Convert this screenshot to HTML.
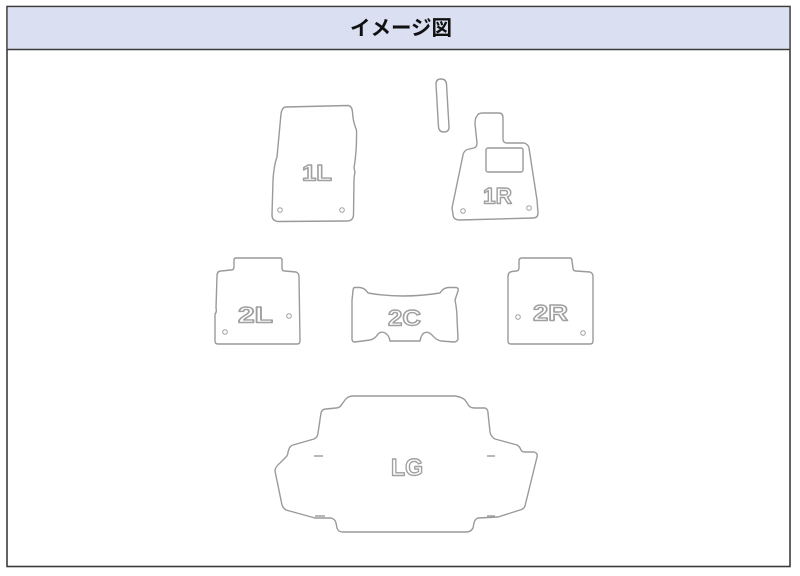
<!DOCTYPE html>
<html>
<head>
<meta charset="utf-8">
<style>
  html, body { margin:0; padding:0; background:#fff; }
  body { width:800px; height:576px; overflow:hidden; }
  svg { display:block; }
  .s { fill:#fff; stroke:#9a9a9a; stroke-width:1.4; stroke-linejoin:round; }
  .h { fill:#fff; stroke:#a0a0a0; stroke-width:1; }
  .t { font-family:"Liberation Sans", Arial, sans-serif; font-weight:bold; fill:#fff; stroke:#a0a0a0; stroke-width:1.4; stroke-linejoin:round; }
  .d { stroke:#a0a0a0; stroke-width:1.5; fill:none; }
</style>
</head>
<body>
<svg width="800" height="576" viewBox="0 0 800 576" xmlns="http://www.w3.org/2000/svg">
  <!-- frame -->
  <rect x="7" y="6.5" width="783" height="560" fill="#fff" stroke="#3c3c3c" stroke-width="1.6"/>
  <rect x="7.8" y="7.3" width="781.4" height="42" fill="#dae0f1"/>
  <line x1="7" y1="49.5" x2="790" y2="49.5" stroke="#3c3c3c" stroke-width="1.6"/>
  <text x="401" y="35" text-anchor="middle" font-family="'Liberation Sans','Noto Sans CJK JP',sans-serif" font-weight="bold" font-size="20.5" fill="#111">イメージ図</text>

  <!-- 1L -->
  <path class="s" d="M286,107 L348,105.5 Q352,106 352.5,112 Q353,122 356.5,130 Q357,150 354,168 L355,172 Q354,176 354,180 L353.5,215 Q353,221 347,221 L278,221.5 Q272,221 272,215 L273,180 Q274,165 277,157 L281,114 Q282,107 286,107 Z"/>
  <circle class="h" cx="280" cy="210" r="2.3"/>
  <circle class="h" cx="342" cy="210" r="2.3"/>
  <text class="t" x="302" y="180.5" font-size="22" textLength="30" lengthAdjust="spacingAndGlyphs">1L</text>

  <!-- small piece -->
  <path class="s" d="M436,84 Q436,79 441,79 Q446,79 446.5,84 L449,127 Q449,132 444,132 Q439,132 438.5,127 Z"/>

  <!-- 1R -->
  <path class="s" d="M477,116 Q478,113 483,113 L499,113 Q503,113 503,118 L503,139 Q503,143 507,143 L524,143 Q528,144 529,148 L537,200 L538,213 Q538,218 533,218 L460,220 Q453,220 453,214 L452,208 L463,155 Q464,150 469,149 L474,148 Q477,147 477,143 L475,124 Q475,118 477,116 Z"/>
  <rect class="s" x="486" y="148" width="37" height="24" rx="2"/>
  <circle class="h" cx="463" cy="211" r="2.3"/>
  <circle class="h" cx="529" cy="208" r="2.3"/>
  <text class="t" x="483" y="203.5" font-size="22" textLength="29" lengthAdjust="spacingAndGlyphs">1R</text>

  <!-- 2L -->
  <path class="s" d="M236,258 L280,258 Q282,258 282,260 L282,268 Q282,271 285,271 L296,272 Q299,273 299,277 L300,341 Q300,344 297,344 L218,344 Q215,344 215,341 L215,314 Q217,312 216,308 L217,276 Q217,271 221,271 L231,270 Q234,270 234,267 L234,260 Q234,258 236,258 Z"/>
  <circle class="h" cx="225" cy="332" r="2.3"/>
  <circle class="h" cx="289" cy="316" r="2.3"/>
  <text class="t" x="238" y="322.5" font-size="22" textLength="35" lengthAdjust="spacingAndGlyphs">2L</text>

  <!-- 2C -->
  <path class="s" d="M355,287.5 L360,287.5 Q365,288 368,293 Q402,299 440,293 Q443,288 448,287.5 L456,287.5 Q459,288 458,291 L455,300 Q457,310 457,318 L458,339 Q457,342 454,342 L441,341 Q436,340 432,335 Q428,331 424,333 Q421,335 420,341 L390,341 Q389,335 385,333 Q381,331 378,334 Q375,339 370,340 L355,342 Q352,342 352,339 L352,300 L353,291 Q353,287.5 355,287.5 Z"/>
  <text class="t" x="388" y="325.5" font-size="22" textLength="33" lengthAdjust="spacingAndGlyphs">2C</text>

  <!-- 2R -->
  <path class="s" d="M522,258 L570,258 Q572,258 572,261 L573,268 Q573,271 576,271 L590,272 Q593,273 593,277 L593,341 Q593,344 590,344 L511,344 Q508,344 508,341 L508,277 Q508,272 512,271.5 L516,271 Q519,271 519,268 L519,261 Q519,258 522,258 Z"/>
  <circle class="h" cx="518" cy="317" r="2.3"/>
  <circle class="h" cx="583" cy="333" r="2.3"/>
  <text class="t" x="533" y="320.5" font-size="22" textLength="35" lengthAdjust="spacingAndGlyphs">2R</text>

  <!-- LG -->
  <path class="s" d="M353,396 L455,396 Q462,397 465,400 L469,406 Q471,408 475,408 L485,408 Q488,409 488,413 L490,432 Q491,437 495,439 L517,445 Q520,447 521,450 Q522,452 525,452 L534,452 Q538,453 537,457 L525,506 Q524,509 520,510 L498,517 L478,518 Q475,519 474,523 L473,528 Q471,532 466,532 L343,532 Q338,532 337,528 L336,523 Q335,519 331,518 L315,518 L286,510 Q283,508 282,505 L275,471 Q275,467 280,463 L286,457 Q288,455 288,452 L289,449 Q290,446 293,445 L314,439 Q318,437 318,433 L321,413 Q322,409 326,409 L336,408 Q340,408 342,404 L345,400 Q348,396 353,396 Z"/>
  <line class="d" x1="314" y1="456" x2="323" y2="456"/>
  <line class="d" x1="487" y1="456" x2="495" y2="456"/>
  <line class="d" x1="315" y1="516" x2="325" y2="516"/>
  <line class="d" x1="487" y1="516" x2="495" y2="516"/>
  <text class="t" x="391" y="475.5" font-size="24" textLength="32" lengthAdjust="spacingAndGlyphs">LG</text>
</svg>
</body>
</html>
